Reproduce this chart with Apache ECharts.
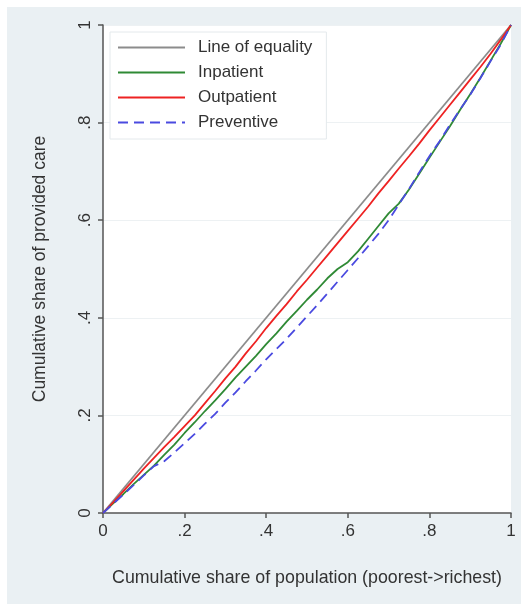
<!DOCTYPE html>
<html>
<head>
<meta charset="utf-8">
<script src="https://cdn.jsdelivr.net/npm/echarts@6/dist/echarts.min.js"></script>
<style>
  html, body { margin: 0; padding: 0; background: #fff; }
  #chart { width: 521px; height: 604px; }
</style>
</head>
<body>
<div id="chart"></div>
<script>
// cumulative share of population (x) for the three curves
const popShare = [0, 0.025, 0.05, 0.075, 0.1, 0.125, 0.15, 0.175, 0.2, 0.225,
  0.25, 0.275, 0.3, 0.325, 0.35, 0.375, 0.4, 0.425, 0.45, 0.475,
  0.5, 0.525, 0.55, 0.575, 0.6, 0.625, 0.65, 0.675, 0.7, 0.725,
  0.75, 0.775, 0.8, 0.825, 0.85, 0.875, 0.9, 0.925, 0.95, 0.975, 1];

const inpatient = [0, 0.020, 0.039, 0.059, 0.078, 0.097, 0.119, 0.140, 0.164, 0.186,
  0.209, 0.231, 0.254, 0.278, 0.300, 0.322, 0.346, 0.368, 0.392, 0.414,
  0.437, 0.458, 0.481, 0.500, 0.514, 0.536, 0.562, 0.588, 0.614, 0.634,
  0.663, 0.695, 0.728, 0.760, 0.792, 0.826, 0.858, 0.892, 0.927, 0.962, 1];

const outpatient = [0, 0.022, 0.045, 0.068, 0.091, 0.113, 0.135, 0.156, 0.178, 0.200,
  0.225, 0.250, 0.276, 0.300, 0.327, 0.352, 0.379, 0.404, 0.428, 0.454,
  0.478, 0.503, 0.528, 0.553, 0.578, 0.603, 0.628, 0.655, 0.680, 0.706,
  0.731, 0.757, 0.784, 0.810, 0.836, 0.862, 0.888, 0.914, 0.941, 0.970, 1];

const preventive = [0, 0.019, 0.038, 0.057, 0.077, 0.096, 0.106, 0.124, 0.143, 0.162,
  0.183, 0.203, 0.226, 0.247, 0.270, 0.292, 0.315, 0.336, 0.357, 0.380,
  0.403, 0.426, 0.450, 0.474, 0.498, 0.522, 0.547, 0.572, 0.600, 0.632,
  0.664, 0.698, 0.731, 0.762, 0.795, 0.827, 0.857, 0.891, 0.926, 0.960, 1];

const equality = [0, 1];

const tickLabels = ['0', '.2', '.4', '.6', '.8', '1'];

function pairs(xs, ys) {
  return xs.map((x, i) => [x, ys[i]]);
}
function tickFmt(v) {
  return tickLabels[Math.round(v / 0.2)];
}

const font = 'Liberation Sans, Arial, sans-serif';
const chart = echarts.init(document.getElementById('chart'));

chart.setOption({
  animation: false,
  backgroundColor: '#fff',
  graphic: [{
    type: 'rect',
    z: -10,
    silent: true,
    shape: { x: 7, y: 7, width: 514, height: 597 },
    style: { fill: '#eaf0f3' }
  }],
  grid: {
    left: 103, right: 10, top: 25, bottom: 91,
    show: true, backgroundColor: '#fff', borderWidth: 0
  },
  legend: {
    orient: 'vertical',
    left: 110, top: 32,
    padding: [7, 14, 8, 7],
    itemWidth: 67, itemHeight: 17, itemGap: 8,
    itemStyle: { opacity: 0 },
    backgroundColor: '#fff',
    borderColor: '#e4e9ec', borderWidth: 1,
    textStyle: { fontFamily: font, fontSize: 17, color: '#333', padding: [0, 0, 0, 8] },
    data: ['Line of equality', 'Inpatient', 'Outpatient', 'Preventive']
  },
  xAxis: {
    type: 'value', min: 0, max: 1, interval: 0.2,
    name: 'Cumulative share of population (poorest->richest)',
    nameLocation: 'middle', nameGap: 56,
    nameTextStyle: { fontFamily: font, fontSize: 17.8, color: '#333' },
    axisLine: { lineStyle: { color: '#555', width: 1.5 } },
    axisTick: { length: 5, lineStyle: { color: '#555', width: 1.5 } },
    axisLabel: { formatter: tickFmt, fontFamily: font, fontSize: 17, color: '#333', margin: 10 },
    splitLine: { show: false }
  },
  yAxis: {
    type: 'value', min: 0, max: 1, interval: 0.2,
    name: 'Cumulative share of provided care',
    nameLocation: 'middle', nameGap: 54,
    nameTextStyle: { fontFamily: font, fontSize: 17.5, color: '#333' },
    axisLine: { show: true, lineStyle: { color: '#555', width: 1.5 } },
    axisTick: { show: true, length: 5, lineStyle: { color: '#555', width: 1.5 } },
    axisLabel: { formatter: tickFmt, rotate: 90, fontFamily: font, fontSize: 17, color: '#333', margin: 9 },
    splitLine: { show: true, lineStyle: { color: '#edf1f3', width: 1 } }
  },
  series: [
    {
      name: 'Line of equality', type: 'line', symbol: 'none',
      lineStyle: { color: '#8c8c8c', width: 1.8 }, itemStyle: { color: '#8c8c8c' },
      data: pairs(equality, equality)
    },
    {
      name: 'Inpatient', type: 'line', symbol: 'none',
      lineStyle: { color: '#2f8a35', width: 1.8 }, itemStyle: { color: '#2f8a35' },
      data: pairs(popShare, inpatient)
    },
    {
      name: 'Outpatient', type: 'line', symbol: 'none',
      lineStyle: { color: '#ee2222', width: 1.8 }, itemStyle: { color: '#ee2222' },
      data: pairs(popShare, outpatient)
    },
    {
      name: 'Preventive', type: 'line', symbol: 'none',
      lineStyle: { color: '#4a4ae0', width: 1.8, type: [10, 6] }, itemStyle: { color: '#4a4ae0' },
      data: pairs(popShare, preventive)
    }
  ]
});
</script>
</body>
</html>
